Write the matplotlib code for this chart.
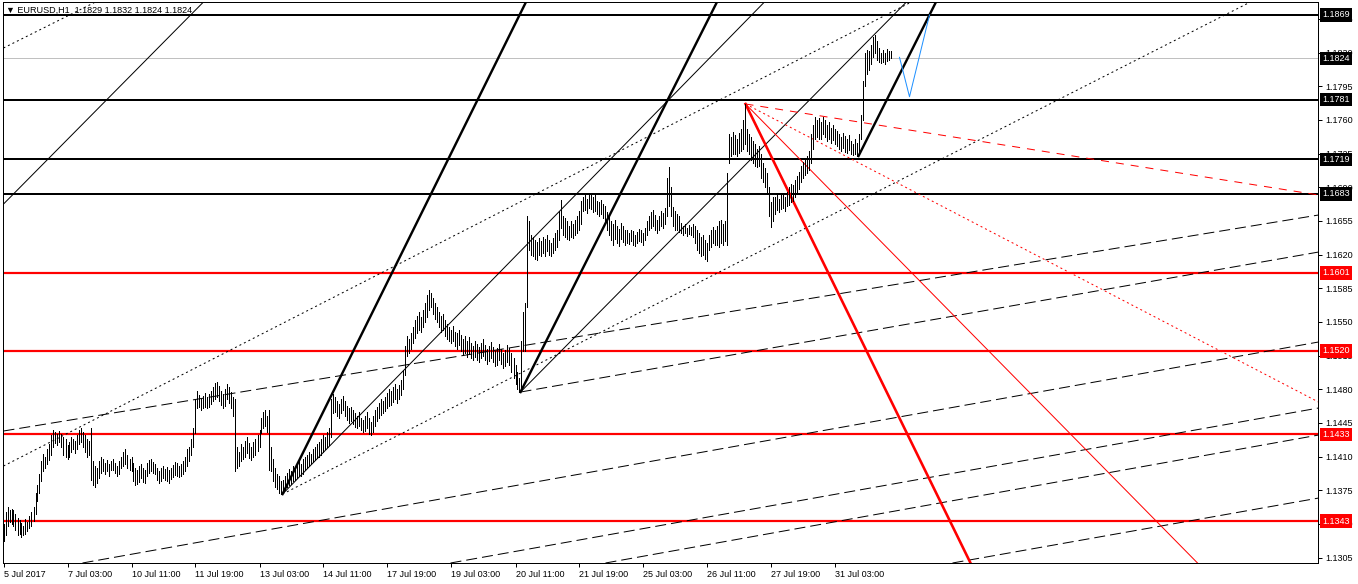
import matplotlib
matplotlib.use('Agg')
import matplotlib.pyplot as plt
import matplotlib.transforms as mtrans
import numpy as np

plt.rcParams['font.family'] = ['Liberation Sans', 'DejaVu Sans']

# EURUSD H1 bars from 5 Jul 2017 19:00, highs and lows
bar_hi = [
    1.1340, 1.1352, 1.1358, 1.1355, 1.1356, 1.1354, 1.1350, 1.1346, 1.1344, 1.1341,
    1.1338, 1.1345, 1.1342, 1.1348, 1.1352, 1.1358,
    1.1372, 1.1380, 1.1392, 1.1405, 1.1413, 1.1410, 1.1418, 1.1423, 1.1432, 1.1438,
    1.1436, 1.1434, 1.1437, 1.1433, 1.1430, 1.1428, 1.1422, 1.1425, 1.1430, 1.1428,
    1.1426, 1.1432, 1.1438, 1.1440, 1.1436, 1.1432, 1.1428, 1.1426, 1.1440,
    1.1405, 1.1400, 1.1398, 1.1405, 1.1410, 1.1408, 1.1403, 1.1406, 1.1402, 1.1405,
    1.1408, 1.1403, 1.1400, 1.1405, 1.1410, 1.1415, 1.1418, 1.1412, 1.1408,
    1.1410, 1.1403, 1.1398, 1.1396, 1.1400, 1.1402, 1.1398, 1.1396, 1.1403, 1.1406,
    1.1408, 1.1404, 1.1402, 1.1398, 1.1395, 1.1398, 1.1400, 1.1397, 1.1399, 1.1396,
    1.1398, 1.1401, 1.1404, 1.1403, 1.1400, 1.1402, 1.1405, 1.1410, 1.1418, 1.1420,
    1.1428, 1.1440, 1.1470, 1.1478, 1.1474, 1.1470, 1.1473, 1.1476, 1.1472, 1.1475,
    1.1478, 1.1482, 1.1486, 1.1488, 1.1483, 1.1478, 1.1475, 1.1480, 1.1485, 1.1482,
    1.1477, 1.1472, 1.1470, 1.1420, 1.1415, 1.1423, 1.1420,
    1.1426, 1.1430, 1.1424, 1.1420, 1.1425, 1.1428, 1.1432, 1.1438, 1.1450, 1.1456,
    1.1458, 1.1452, 1.1458, 1.1420, 1.1408, 1.1398, 1.1392, 1.1390, 1.1385, 1.1386,
    1.1390, 1.1393, 1.1397, 1.1395, 1.1400, 1.1398, 1.1403, 1.1405, 1.1402, 1.1408,
    1.1410, 1.1412, 1.1415, 1.1413, 1.1418, 1.1420, 1.1423, 1.1425, 1.1428, 1.1432,
    1.1430, 1.1436, 1.1440, 1.1470, 1.1475, 1.1472, 1.1468, 1.1465, 1.1470, 1.1473,
    1.1468, 1.1463, 1.1460, 1.1462, 1.1458, 1.1455, 1.1452, 1.1456, 1.1450, 1.1448,
    1.1452, 1.1456, 1.1450, 1.1446, 1.1452, 1.1458, 1.1462, 1.1466, 1.1470, 1.1468,
    1.1472, 1.1476, 1.1480, 1.1478, 1.1482, 1.1485, 1.1480, 1.1484, 1.1490, 1.1500,
    1.1525, 1.1535, 1.1532, 1.1538, 1.1545, 1.1552, 1.1556, 1.1560, 1.1555, 1.1562,
    1.1570, 1.1578, 1.1583, 1.1580, 1.1575, 1.1570, 1.1566, 1.1560, 1.1556, 1.1558,
    1.1552, 1.1548, 1.1545, 1.1542, 1.1546, 1.1540, 1.1538, 1.1542, 1.1536, 1.1532,
    1.1535, 1.1530, 1.1534, 1.1528, 1.1525, 1.1530, 1.1527, 1.1524, 1.1528, 1.1532,
    1.1526, 1.1522, 1.1525, 1.1529, 1.1524, 1.1520, 1.1523, 1.1527, 1.1522, 1.1518,
    1.1521, 1.1526, 1.1523, 1.1518, 1.1512, 1.1505, 1.1498, 1.1492, 1.1530, 1.1560,
    1.1570, 1.1660,
    1.1655, 1.1640, 1.1638, 1.1635, 1.1633, 1.1637, 1.1634, 1.1638, 1.1636, 1.1640,
    1.1635, 1.1632, 1.1637, 1.1642, 1.1645, 1.1665, 1.1677, 1.1660, 1.1658, 1.1655,
    1.1650, 1.1655, 1.1652, 1.1656, 1.1660, 1.1665, 1.1676, 1.1680, 1.1682, 1.1678,
    1.1684, 1.1683, 1.1680, 1.1682, 1.1676, 1.1675, 1.1677, 1.1673, 1.1670, 1.1664,
    1.1660, 1.1655, 1.1652, 1.1656, 1.1650, 1.1647, 1.1653, 1.1650, 1.1646, 1.1645,
    1.1642, 1.1646, 1.1644, 1.1640, 1.1643, 1.1647, 1.1645, 1.1642, 1.1648, 1.1655,
    1.1660, 1.1664, 1.1666, 1.1661, 1.1656, 1.1660, 1.1665, 1.1663, 1.1668, 1.1700,
    1.1711, 1.1690, 1.1669, 1.1665, 1.1662, 1.1660, 1.1653, 1.1650, 1.1652, 1.1648,
    1.1651, 1.1649, 1.1652, 1.1650, 1.1646, 1.1642, 1.1638, 1.1640, 1.1635, 1.1632,
    1.1640, 1.1645, 1.1649, 1.1646, 1.1650, 1.1655, 1.1656, 1.1652, 1.1655, 1.1705,
    1.1745, 1.1742, 1.1747, 1.1744, 1.1740, 1.1746, 1.1750, 1.1760, 1.1776, 1.1750,
    1.1745, 1.1742, 1.1738, 1.1735, 1.1730, 1.1733, 1.1725, 1.1715, 1.1710, 1.1705,
    1.1690, 1.1675, 1.1680, 1.1680, 1.1684, 1.1678, 1.1682, 1.1684, 1.1680, 1.1685,
    1.1690, 1.1693, 1.1692, 1.1697, 1.1702, 1.1706, 1.1712, 1.1716, 1.1718, 1.1722,
    1.1728, 1.1745, 1.1755, 1.1763, 1.1760, 1.1762, 1.1758, 1.1763, 1.1760, 1.1755,
    1.1758, 1.1752, 1.1755, 1.1750, 1.1748, 1.1745, 1.1742, 1.1746, 1.1743, 1.1740,
    1.1744, 1.1738, 1.1735, 1.1740, 1.1736, 1.1745, 1.1765, 1.1800, 1.1830, 1.1833,
    1.1832, 1.1838, 1.1846, 1.1848, 1.1842, 1.1835, 1.1830, 1.1833, 1.1830, 1.1834,
    1.1832, 1.1832,
]
bar_lo = [
    1.1322, 1.1328, 1.1338, 1.1342, 1.1340, 1.1338, 1.1334, 1.1328, 1.1330, 1.1326,
    1.1328, 1.1330, 1.1333, 1.1336, 1.1338, 1.1343,
    1.1350, 1.1364, 1.1372, 1.1385, 1.1395, 1.1398, 1.1402, 1.1406, 1.1412, 1.1420,
    1.1424, 1.1422, 1.1425, 1.1420, 1.1412, 1.1410, 1.1408, 1.1410, 1.1415, 1.1418,
    1.1414, 1.1418, 1.1423, 1.1425, 1.1420, 1.1415, 1.1410, 1.1412, 1.1386,
    1.1380, 1.1378, 1.1383, 1.1388, 1.1393, 1.1395, 1.1392, 1.1395, 1.1390, 1.1396,
    1.1396, 1.1393, 1.1390, 1.1392, 1.1398, 1.1400, 1.1402, 1.1398, 1.1396,
    1.1395, 1.1385, 1.1380, 1.1381, 1.1384, 1.1388, 1.1384, 1.1383, 1.1390, 1.1393,
    1.1395, 1.1393, 1.1392, 1.1386, 1.1383, 1.1385, 1.1388, 1.1386, 1.1385, 1.1383,
    1.1387, 1.1389, 1.1391, 1.1390, 1.1389, 1.1390, 1.1392, 1.1395, 1.1400, 1.1405,
    1.1412, 1.1420, 1.1435, 1.1460, 1.1462, 1.1458, 1.1460, 1.1462, 1.1460, 1.1462,
    1.1465, 1.1468, 1.1470, 1.1472, 1.1468, 1.1464, 1.1460, 1.1463, 1.1470, 1.1466,
    1.1460, 1.1452, 1.1395, 1.1398, 1.1400, 1.1405, 1.1408,
    1.1410, 1.1414, 1.1409, 1.1406, 1.1410, 1.1412, 1.1416, 1.1420, 1.1435, 1.1440,
    1.1442, 1.1436, 1.1396, 1.1395, 1.1385, 1.1378, 1.1376, 1.1372, 1.1371, 1.1373,
    1.1375, 1.1378, 1.1380, 1.1382, 1.1385, 1.1386, 1.1388, 1.1390, 1.1390, 1.1392,
    1.1396, 1.1398, 1.1400, 1.1402, 1.1404, 1.1406, 1.1409, 1.1410, 1.1412, 1.1415,
    1.1418, 1.1420, 1.1422, 1.1430, 1.1455, 1.1456, 1.1452, 1.1450, 1.1455, 1.1458,
    1.1452, 1.1448, 1.1445, 1.1447, 1.1444, 1.1441, 1.1440, 1.1442, 1.1438, 1.1436,
    1.1437, 1.1440, 1.1434, 1.1432, 1.1436, 1.1442, 1.1447, 1.1450, 1.1453, 1.1455,
    1.1457, 1.1460, 1.1463, 1.1464, 1.1467, 1.1470, 1.1466, 1.1470, 1.1474, 1.1480,
    1.1495, 1.1515, 1.1518, 1.1522, 1.1528, 1.1533, 1.1538, 1.1542, 1.1540, 1.1545,
    1.1550, 1.1555, 1.1562, 1.1565, 1.1558, 1.1553, 1.1550, 1.1545, 1.1540, 1.1542,
    1.1535, 1.1532, 1.1530, 1.1528, 1.1530, 1.1525, 1.1522, 1.1526, 1.1520, 1.1516,
    1.1518, 1.1514, 1.1517, 1.1512, 1.1510, 1.1513, 1.1510, 1.1508, 1.1512, 1.1515,
    1.1510, 1.1506, 1.1509, 1.1512, 1.1508, 1.1504, 1.1505, 1.1510, 1.1506, 1.1502,
    1.1504, 1.1508, 1.1505, 1.1498, 1.1492, 1.1485, 1.1480, 1.1477, 1.1478, 1.1520,
    1.1520, 1.1565,
    1.1625, 1.1620, 1.1618, 1.1615, 1.1614, 1.1620, 1.1618, 1.1622, 1.1619, 1.1624,
    1.1620, 1.1618, 1.1622, 1.1625, 1.1628, 1.1635, 1.1648, 1.1640, 1.1638, 1.1636,
    1.1635, 1.1638, 1.1637, 1.1640, 1.1642, 1.1645, 1.1652, 1.1665, 1.1666, 1.1663,
    1.1668, 1.1667, 1.1664, 1.1665, 1.1662, 1.1660, 1.1662, 1.1658, 1.1655, 1.1645,
    1.1640, 1.1635, 1.1630, 1.1636, 1.1632, 1.1629, 1.1636, 1.1633, 1.1630, 1.1632,
    1.1631, 1.1634, 1.1630, 1.1629, 1.1632, 1.1634, 1.1633, 1.1630, 1.1635, 1.1640,
    1.1645, 1.1648, 1.1650, 1.1646, 1.1642, 1.1645, 1.1650, 1.1648, 1.1652, 1.1660,
    1.1670, 1.1660, 1.1650, 1.1646, 1.1645, 1.1643, 1.1642, 1.1640, 1.1642, 1.1639,
    1.1641, 1.1640, 1.1638, 1.1632, 1.1625, 1.1622, 1.1618, 1.1620, 1.1615, 1.1613,
    1.1625, 1.1628, 1.1632, 1.1630, 1.1630, 1.1628, 1.1632, 1.1630, 1.1634, 1.1630,
    1.1715, 1.1722, 1.1725, 1.1724, 1.1722, 1.1726, 1.1728, 1.1730, 1.1735, 1.1728,
    1.1725, 1.1718, 1.1715, 1.1712, 1.1711, 1.1712, 1.1700, 1.1695, 1.1690, 1.1685,
    1.1660, 1.1649, 1.1655, 1.1662, 1.1666, 1.1664, 1.1667, 1.1668, 1.1665, 1.1670,
    1.1672, 1.1675, 1.1676, 1.1680, 1.1684, 1.1688, 1.1695, 1.1700, 1.1703, 1.1705,
    1.1708, 1.1715, 1.1730, 1.1740, 1.1742, 1.1740, 1.1740, 1.1745, 1.1742, 1.1738,
    1.1740, 1.1736, 1.1739, 1.1735, 1.1733, 1.1730, 1.1728, 1.1731, 1.1727, 1.1726,
    1.1729, 1.1725, 1.1723, 1.1724, 1.1722, 1.1725, 1.1740, 1.1760, 1.1795, 1.1808,
    1.1812, 1.1818, 1.1825, 1.1830, 1.1822, 1.1820, 1.1819, 1.1820, 1.1818, 1.1821,
    1.1822, 1.1824,
]

# bottom axis: one label every 32 bars
time_labels = ['5 Jul 2017', '7 Jul 03:00', '10 Jul 11:00', '11 Jul 19:00',
               '13 Jul 03:00', '14 Jul 11:00', '17 Jul 19:00', '19 Jul 03:00',
               '20 Jul 11:00', '21 Jul 19:00', '25 Jul 03:00', '26 Jul 11:00',
               '27 Jul 19:00', '31 Jul 03:00']
label_step = 32

# horizontal levels
black_levels = [1.1869, 1.1781, 1.1719, 1.1683]
red_levels = [1.1601, 1.1520, 1.1433, 1.1343]
bid_price = 1.1824
title = '\u25bc EURUSD,H1  1.1829 1.1832 1.1824 1.1824'

# trend lines, (bar, price) start and a second point they pass through
thin_lines = [((0, 1.16725), (99.5, 1.18815)),
              ((139.5, 1.1371), (380, 1.18815)),
              ((258.5, 1.14771), (451, 1.18815))]
thick_lines = [((139.5, 1.1371), (261, 1.18815)),
               ((258.5, 1.14771), (356.5, 1.18815)),
               ((427.5, 1.17224), (466, 1.18815))]
dotted_lines = [((0, 1.18347), (46, 1.18825)),
                ((0, 1.14002), (451, 1.18794)),
                ((139.5, 1.1371), (622.5, 1.18815))]
dashed_lines = [((0, 1.14366), (657.5, 1.16611)),
                ((39.5, 1.12994), (657.5, 1.15291)),
                ((223.5, 1.12994), (657.5, 1.14605)),
                ((301, 1.12994), (657.5, 1.14324)),
                ((474.5, 1.12994), (657.5, 1.13669)),
                ((258.5, 1.14771), (657.5, 1.16226))]

# fan from the 26 Jul high
red_top = (371, 1.17765)
red_thick_to = (483.5, 1.12994)
red_thin_to = (597, 1.12994)
red_dotted_to = (657.5, 1.14667)
red_dashed_to = (657.5, 1.16819)

# projected zigzag
zig_bar = [448, 453, 463]
zig_price = [1.1825, 1.1784, 1.1869]

fig = plt.figure(figsize=(13.58, 5.84), dpi=100)
ax = fig.add_axes([3 / 1358, 21 / 584, 1315 / 1358, 561 / 584])
ax.set_xlim(-0.25, 657.25)
ax.set_ylim(1.12994, 1.18825)

PX = 0.72  # one pixel in points


def ray(p0, p1, far=720):
    slope = (p1[1] - p0[1]) / (p1[0] - p0[0])
    return [p0[0], far], [p0[1], p0[1] + slope * (far - p0[0])]


for lv in black_levels:
    ax.axhline(lv, color='black', lw=2 * PX, zorder=2)
for lv in red_levels:
    ax.axhline(lv, color='#ff0000', lw=2.2 * PX, zorder=2)
ax.axhline(bid_price, color='#c0c0c0', lw=PX, zorder=1)

for a, b in thin_lines:
    xs, ys = ray(a, b)
    ax.plot(xs, ys, color='black', lw=PX, zorder=2)
for a, b in thick_lines:
    xs, ys = ray(a, b)
    ax.plot(xs, ys, color='black', lw=2.4 * PX, zorder=2)
for a, b in dotted_lines:
    xs, ys = ray(a, b)
    ax.plot(xs, ys, color='black', lw=PX, ls=(0, (2, 3)), zorder=2)
for a, b in dashed_lines:
    xs, ys = ray(a, b)
    ax.plot(xs, ys, color='black', lw=PX, ls=(0, (11, 5)), zorder=2)

xs, ys = ray(red_top, red_thick_to)
ax.plot(xs, ys, color='#ff0000', lw=2.6 * PX, zorder=2)
xs, ys = ray(red_top, red_thin_to)
ax.plot(xs, ys, color='#ff0000', lw=PX, zorder=2)
xs, ys = ray(red_top, red_dotted_to)
ax.plot(xs, ys, color='#ff0000', lw=PX, ls=(0, (2, 3)), zorder=2)
xs, ys = ray(red_top, red_dashed_to)
ax.plot(xs, ys, color='#ff0000', lw=PX, ls=(0, (8, 7)), zorder=2)

ax.plot(zig_bar, zig_price, color='#1e90ff', lw=PX, zorder=3)

# price bars
idx = np.arange(len(bar_hi))
ax.vlines(idx, bar_lo, bar_hi, color='black', lw=PX, antialiased=False, zorder=4)

# axes cosmetics
for sp in ax.spines.values():
    sp.set_linewidth(PX)
ax.yaxis.tick_right()
yt = np.round(np.arange(1.1305, 1.1870, 0.0035), 4)
ax.set_yticks(yt)
ax.set_yticklabels(['%.4f' % v for v in yt], fontsize=6.5)
ax.tick_params(axis='y', direction='out', length=3, width=PX, pad=2)

xt = np.arange(len(time_labels)) * label_step
ax.set_xticks(xt)
ax.set_xticklabels(time_labels, fontsize=6.5, ha='left')
ax.tick_params(axis='x', direction='out', length=3, width=PX, pad=2)
for lab in ax.get_xticklabels():
    lab.set_x(lab.get_position()[0])

# price tags on the right scale
tag = mtrans.blended_transform_factory(ax.transAxes, ax.transData)
for lv in black_levels:
    ax.text(1.003, lv, '%.4f' % lv, transform=tag, ha='left', va='center',
            fontsize=6.5, color='white', clip_on=False, zorder=10,
            bbox=dict(boxstyle='square,pad=0.25', fc='black', ec='none'))
ax.text(1.003, bid_price, '%.4f' % bid_price, transform=tag, ha='left', va='center',
        fontsize=6.5, color='white', clip_on=False, zorder=10,
        bbox=dict(boxstyle='square,pad=0.25', fc='black', ec='none'))
for lv in red_levels:
    ax.text(1.003, lv, '%.4f' % lv, transform=tag, ha='left', va='center',
            fontsize=6.5, color='white', clip_on=False, zorder=10,
            bbox=dict(boxstyle='square,pad=0.25', fc='#ff0000', ec='none'))

fig.text(6 / 1358, 1 - 10 / 584, title, fontsize=6.5, ha='left', va='center',
         color='black')

fig.savefig('out.png', dpi=100, facecolor='white')
